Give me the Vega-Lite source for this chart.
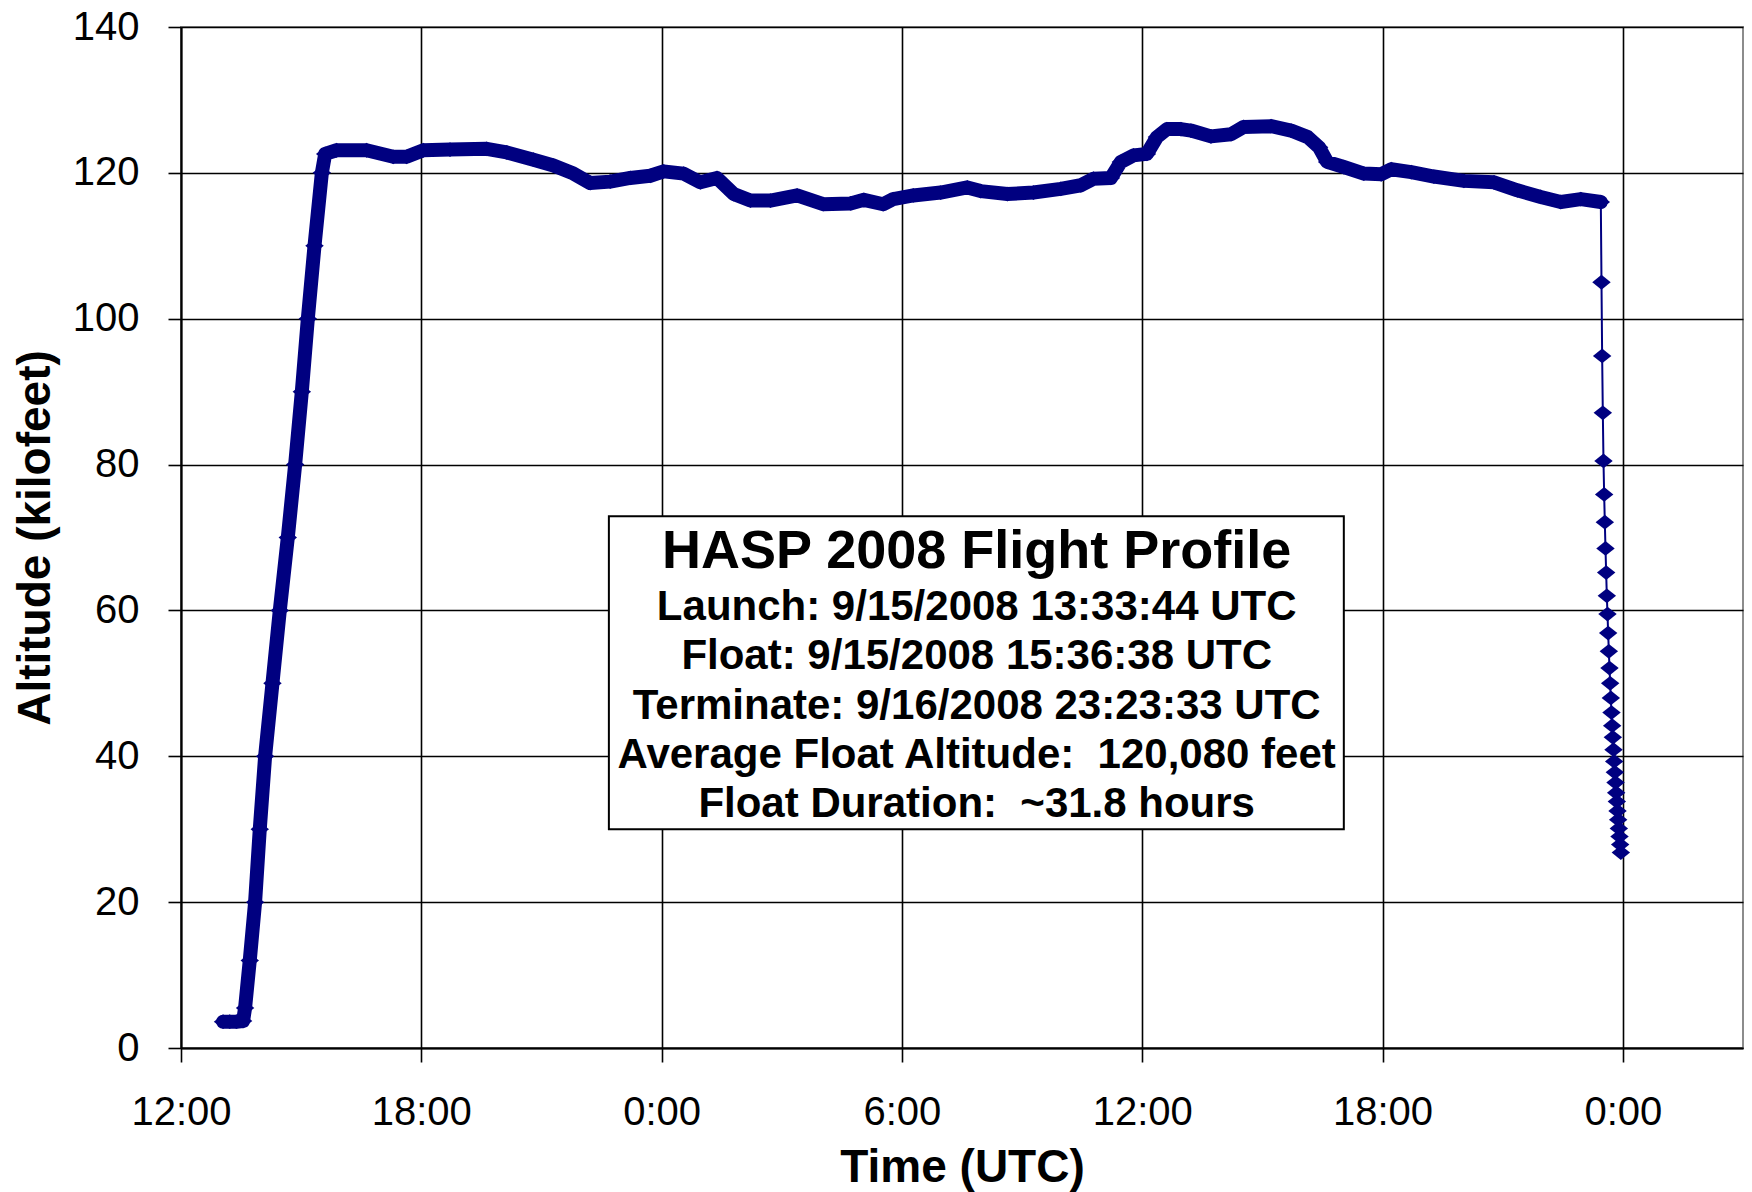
{
  "$schema": "https://vega.github.io/schema/vega-lite/v6.json",
  "width": 1562,
  "height": 1021,
  "autosize": {"type": "none"},
  "padding": {"left": 181, "top": 27, "right": 9, "bottom": 144},
  "background": "white",
  "config": {
    "font": "Liberation Sans",
    "view": {"stroke": "#8c8c8c", "strokeWidth": 2},
    "axis": {
      "labelFont": "Liberation Sans",
      "titleFont": "Liberation Sans",
      "labelColor": "#000",
      "titleColor": "#000",
      "labelFontSize": 40,
      "titleFontSize": 46,
      "titleFontWeight": "bold",
      "gridColor": "#000",
      "gridWidth": 1.6,
      "gridOpacity": 1,
      "domainColor": "#000",
      "domainWidth": 2,
      "tickColor": "#000",
      "tickWidth": 1.6
    }
  },
  "datasets": {
    "flight": [
      {"t": "2008-09-15T13:03:00Z", "alt": 3.6, "phase": "ascent"},
      {"t": "2008-09-15T13:13:00Z", "alt": 3.6, "phase": "ascent"},
      {"t": "2008-09-15T13:23:00Z", "alt": 3.6, "phase": "ascent"},
      {"t": "2008-09-15T13:33:00Z", "alt": 3.7, "phase": "ascent"},
      {"t": "2008-09-15T13:36:00Z", "alt": 5.5, "phase": "ascent"},
      {"t": "2008-09-15T13:43:00Z", "alt": 12, "phase": "ascent"},
      {"t": "2008-09-15T13:51:00Z", "alt": 20, "phase": "ascent"},
      {"t": "2008-09-15T13:58:00Z", "alt": 30, "phase": "ascent"},
      {"t": "2008-09-15T14:06:00Z", "alt": 40, "phase": "ascent"},
      {"t": "2008-09-15T14:17:00Z", "alt": 50, "phase": "ascent"},
      {"t": "2008-09-15T14:28:00Z", "alt": 60, "phase": "ascent"},
      {"t": "2008-09-15T14:40:00Z", "alt": 70, "phase": "ascent"},
      {"t": "2008-09-15T14:51:00Z", "alt": 80, "phase": "ascent"},
      {"t": "2008-09-15T15:01:00Z", "alt": 90, "phase": "ascent"},
      {"t": "2008-09-15T15:10:00Z", "alt": 100, "phase": "ascent"},
      {"t": "2008-09-15T15:20:00Z", "alt": 110, "phase": "ascent"},
      {"t": "2008-09-15T15:31:00Z", "alt": 120, "phase": "ascent"},
      {"t": "2008-09-15T15:36:00Z", "alt": 122.6, "phase": "float"},
      {"t": "2008-09-15T15:53:00Z", "alt": 123.1, "phase": "float"},
      {"t": "2008-09-15T16:38:00Z", "alt": 123.1, "phase": "float"},
      {"t": "2008-09-15T17:18:00Z", "alt": 122.2, "phase": "float"},
      {"t": "2008-09-15T17:38:00Z", "alt": 122.2, "phase": "float"},
      {"t": "2008-09-15T18:03:00Z", "alt": 123.1, "phase": "float"},
      {"t": "2008-09-15T18:43:00Z", "alt": 123.2, "phase": "float"},
      {"t": "2008-09-15T19:38:00Z", "alt": 123.3, "phase": "float"},
      {"t": "2008-09-15T20:08:00Z", "alt": 122.8, "phase": "float"},
      {"t": "2008-09-15T20:48:00Z", "alt": 121.8, "phase": "float"},
      {"t": "2008-09-15T21:18:00Z", "alt": 121.0, "phase": "float"},
      {"t": "2008-09-15T21:48:00Z", "alt": 119.9, "phase": "float"},
      {"t": "2008-09-15T22:13:00Z", "alt": 118.6, "phase": "float"},
      {"t": "2008-09-15T22:43:00Z", "alt": 118.8, "phase": "float"},
      {"t": "2008-09-15T23:13:00Z", "alt": 119.3, "phase": "float"},
      {"t": "2008-09-15T23:43:00Z", "alt": 119.6, "phase": "float"},
      {"t": "2008-09-16T00:03:00Z", "alt": 120.2, "phase": "float"},
      {"t": "2008-09-16T00:33:00Z", "alt": 119.9, "phase": "float"},
      {"t": "2008-09-16T00:58:00Z", "alt": 118.7, "phase": "float"},
      {"t": "2008-09-16T01:23:00Z", "alt": 119.3, "phase": "float"},
      {"t": "2008-09-16T01:48:00Z", "alt": 117.1, "phase": "float"},
      {"t": "2008-09-16T02:13:00Z", "alt": 116.2, "phase": "float"},
      {"t": "2008-09-16T02:43:00Z", "alt": 116.2, "phase": "float"},
      {"t": "2008-09-16T03:23:00Z", "alt": 116.9, "phase": "float"},
      {"t": "2008-09-16T04:02:00Z", "alt": 115.7, "phase": "float"},
      {"t": "2008-09-16T04:43:00Z", "alt": 115.8, "phase": "float"},
      {"t": "2008-09-16T05:03:00Z", "alt": 116.3, "phase": "float"},
      {"t": "2008-09-16T05:32:00Z", "alt": 115.7, "phase": "float"},
      {"t": "2008-09-16T05:47:00Z", "alt": 116.4, "phase": "float"},
      {"t": "2008-09-16T06:17:00Z", "alt": 116.9, "phase": "float"},
      {"t": "2008-09-16T06:58:00Z", "alt": 117.3, "phase": "float"},
      {"t": "2008-09-16T07:38:00Z", "alt": 118.0, "phase": "float"},
      {"t": "2008-09-16T07:58:00Z", "alt": 117.5, "phase": "float"},
      {"t": "2008-09-16T08:38:00Z", "alt": 117.1, "phase": "float"},
      {"t": "2008-09-16T09:17:00Z", "alt": 117.3, "phase": "float"},
      {"t": "2008-09-16T09:58:00Z", "alt": 117.8, "phase": "float"},
      {"t": "2008-09-16T10:28:00Z", "alt": 118.3, "phase": "float"},
      {"t": "2008-09-16T10:47:00Z", "alt": 119.2, "phase": "float"},
      {"t": "2008-09-16T11:13:00Z", "alt": 119.3, "phase": "float"},
      {"t": "2008-09-16T11:28:00Z", "alt": 121.5, "phase": "float"},
      {"t": "2008-09-16T11:47:00Z", "alt": 122.4, "phase": "float"},
      {"t": "2008-09-16T12:07:00Z", "alt": 122.6, "phase": "float"},
      {"t": "2008-09-16T12:22:00Z", "alt": 124.9, "phase": "float"},
      {"t": "2008-09-16T12:37:00Z", "alt": 126.0, "phase": "float"},
      {"t": "2008-09-16T12:58:00Z", "alt": 126.0, "phase": "float"},
      {"t": "2008-09-16T13:13:00Z", "alt": 125.8, "phase": "float"},
      {"t": "2008-09-16T13:43:00Z", "alt": 125.0, "phase": "float"},
      {"t": "2008-09-16T14:13:00Z", "alt": 125.3, "phase": "float"},
      {"t": "2008-09-16T14:32:00Z", "alt": 126.3, "phase": "float"},
      {"t": "2008-09-16T15:13:00Z", "alt": 126.4, "phase": "float"},
      {"t": "2008-09-16T15:43:00Z", "alt": 125.8, "phase": "float"},
      {"t": "2008-09-16T16:08:00Z", "alt": 124.9, "phase": "float"},
      {"t": "2008-09-16T16:25:00Z", "alt": 123.5, "phase": "float"},
      {"t": "2008-09-16T16:37:00Z", "alt": 121.5, "phase": "float"},
      {"t": "2008-09-16T17:02:00Z", "alt": 120.8, "phase": "float"},
      {"t": "2008-09-16T17:32:00Z", "alt": 119.9, "phase": "float"},
      {"t": "2008-09-16T17:58:00Z", "alt": 119.8, "phase": "float"},
      {"t": "2008-09-16T18:13:00Z", "alt": 120.5, "phase": "float"},
      {"t": "2008-09-16T18:43:00Z", "alt": 120.1, "phase": "float"},
      {"t": "2008-09-16T19:17:00Z", "alt": 119.5, "phase": "float"},
      {"t": "2008-09-16T20:02:00Z", "alt": 118.9, "phase": "float"},
      {"t": "2008-09-16T20:47:00Z", "alt": 118.7, "phase": "float"},
      {"t": "2008-09-16T21:22:00Z", "alt": 117.6, "phase": "float"},
      {"t": "2008-09-16T21:57:00Z", "alt": 116.7, "phase": "float"},
      {"t": "2008-09-16T22:27:00Z", "alt": 116.0, "phase": "float"},
      {"t": "2008-09-16T22:57:00Z", "alt": 116.4, "phase": "float"},
      {"t": "2008-09-16T23:27:00Z", "alt": 116.0, "phase": "float"},
      {"t": "2008-09-16T23:28:00Z", "alt": 105.0, "phase": "descent"},
      {"t": "2008-09-16T23:29:00Z", "alt": 94.9, "phase": "descent"},
      {"t": "2008-09-16T23:30:00Z", "alt": 87.1, "phase": "descent"},
      {"t": "2008-09-16T23:31:00Z", "alt": 80.5, "phase": "descent"},
      {"t": "2008-09-16T23:32:00Z", "alt": 75.9, "phase": "descent"},
      {"t": "2008-09-16T23:33:00Z", "alt": 72.1, "phase": "descent"},
      {"t": "2008-09-16T23:34:00Z", "alt": 68.5, "phase": "descent"},
      {"t": "2008-09-16T23:35:00Z", "alt": 65.2, "phase": "descent"},
      {"t": "2008-09-16T23:36:00Z", "alt": 62.0, "phase": "descent"},
      {"t": "2008-09-16T23:37:00Z", "alt": 59.5, "phase": "descent"},
      {"t": "2008-09-16T23:38:00Z", "alt": 56.9, "phase": "descent"},
      {"t": "2008-09-16T23:39:00Z", "alt": 54.4, "phase": "descent"},
      {"t": "2008-09-16T23:40:00Z", "alt": 52.1, "phase": "descent"},
      {"t": "2008-09-16T23:41:00Z", "alt": 50.0, "phase": "descent"},
      {"t": "2008-09-16T23:42:00Z", "alt": 48.0, "phase": "descent"},
      {"t": "2008-09-16T23:43:00Z", "alt": 46.0, "phase": "descent"},
      {"t": "2008-09-16T23:44:00Z", "alt": 44.2, "phase": "descent"},
      {"t": "2008-09-16T23:45:00Z", "alt": 42.6, "phase": "descent"},
      {"t": "2008-09-16T23:46:00Z", "alt": 40.9, "phase": "descent"},
      {"t": "2008-09-16T23:47:00Z", "alt": 39.3, "phase": "descent"},
      {"t": "2008-09-16T23:48:00Z", "alt": 37.8, "phase": "descent"},
      {"t": "2008-09-16T23:49:00Z", "alt": 36.4, "phase": "descent"},
      {"t": "2008-09-16T23:50:00Z", "alt": 35.0, "phase": "descent"},
      {"t": "2008-09-16T23:51:00Z", "alt": 33.8, "phase": "descent"},
      {"t": "2008-09-16T23:52:00Z", "alt": 32.5, "phase": "descent"},
      {"t": "2008-09-16T23:53:00Z", "alt": 31.3, "phase": "descent"},
      {"t": "2008-09-16T23:54:00Z", "alt": 30.1, "phase": "descent"},
      {"t": "2008-09-16T23:55:00Z", "alt": 29.0, "phase": "descent"},
      {"t": "2008-09-16T23:56:00Z", "alt": 27.9, "phase": "descent"},
      {"t": "2008-09-16T23:57:00Z", "alt": 26.8, "phase": "descent"}
    ],
    "notes": [
      {"head": "HASP 2008 Flight Profile"}
    ]
  },
  "layer": [
    {
      "data": {"name": "flight"},
      "transform": [{"filter": "datum.phase !== 'descent'"}],
      "mark": {"type": "line", "color": "#000080", "strokeWidth": 14, "strokeJoin": "round", "strokeCap": "round"},
      "encoding": {
        "x": {
          "field": "t",
          "type": "temporal",
          "title": "Time (UTC)",
          "scale": {
            "type": "utc",
            "domain": [
              {"year": 2008, "month": 9, "date": 15, "hours": 12, "utc": true},
              {"year": 2008, "month": 9, "date": 17, "hours": 3, "utc": true}
            ]
          },
          "axis": {
            "values": [
              {"year": 2008, "month": 9, "date": 15, "hours": 12, "utc": true},
              {"year": 2008, "month": 9, "date": 15, "hours": 18, "utc": true},
              {"year": 2008, "month": 9, "date": 16, "hours": 0, "utc": true},
              {"year": 2008, "month": 9, "date": 16, "hours": 6, "utc": true},
              {"year": 2008, "month": 9, "date": 16, "hours": 12, "utc": true},
              {"year": 2008, "month": 9, "date": 16, "hours": 18, "utc": true},
              {"year": 2008, "month": 9, "date": 17, "hours": 0, "utc": true}
            ],
            "format": "%-H:%M",
            "tickSize": 14,
            "labelPadding": 30,
            "titlePadding": 13,
            "labelFlush": false,
            "labelOverlap": false
          }
        },
        "y": {
          "field": "alt",
          "type": "quantitative",
          "title": "Altitude (kilofeet)",
          "scale": {"domain": [0, 140], "nice": false, "zero": true},
          "axis": {
            "values": [0, 20, 40, 60, 80, 100, 120, 140],
            "tickSize": 13,
            "labelPadding": 29,
            "titlePadding": 13,
            "labelFlush": false,
            "labelOverlap": false
          }
        }
      }
    },
    {
      "data": {"name": "flight"},
      "mark": {"type": "line", "color": "#000080", "strokeWidth": 2},
      "encoding": {
        "x": {"field": "t", "type": "temporal"},
        "y": {"field": "alt", "type": "quantitative"}
      }
    },
    {
      "data": {"name": "flight"},
      "mark": {"type": "point", "shape": "M-1,0L0,-0.8L1,0L0,0.8Z", "filled": true, "size": 340, "color": "#000080", "opacity": 1},
      "encoding": {
        "x": {"field": "t", "type": "temporal"},
        "y": {"field": "alt", "type": "quantitative"}
      }
    },
    {
      "data": {"name": "notes"},
      "mark": {"type": "rect", "fill": "white", "stroke": "#000", "strokeWidth": 2},
      "encoding": {
        "x": {"datum": {"year": 2008, "month": 9, "date": 15, "hours": 22, "minutes": 41, "utc": true}, "type": "temporal"},
        "x2": {"datum": {"year": 2008, "month": 9, "date": 16, "hours": 17, "minutes": 2, "utc": true}},
        "y": {"datum": 72.9, "type": "quantitative"},
        "y2": {"datum": 30.0}
      }
    },
    {
      "data": {"name": "notes"},
      "mark": {"type": "text", "font": "Liberation Sans", "fontWeight": "bold", "fontSize": 54, "align": "center", "baseline": "alphabetic", "color": "#000"},
      "encoding": {
        "text": {"field": "head"},
        "x": {"datum": {"year": 2008, "month": 9, "date": 16, "hours": 7, "minutes": 52, "utc": true}, "type": "temporal"},
        "y": {"datum": 65.8, "type": "quantitative"}
      }
    },
    {
      "data": {"name": "notes"},
      "mark": {
        "type": "text",
        "text": ["Launch: 9/15/2008 13:33:44 UTC", "Float: 9/15/2008 15:36:38 UTC", "Terminate: 9/16/2008 23:23:33 UTC", "Average Float Altitude: \u00a0120,080 feet", "Float Duration: \u00a0~31.8 hours"],
        "lineHeight": 49.3,
        "font": "Liberation Sans",
        "fontWeight": "bold",
        "fontSize": 42,
        "align": "center",
        "baseline": "alphabetic",
        "color": "#000"
      },
      "encoding": {
        "x": {"datum": {"year": 2008, "month": 9, "date": 16, "hours": 7, "minutes": 52, "utc": true}, "type": "temporal"},
        "y": {"datum": 58.7, "type": "quantitative"}
      }
    }
  ]
}
